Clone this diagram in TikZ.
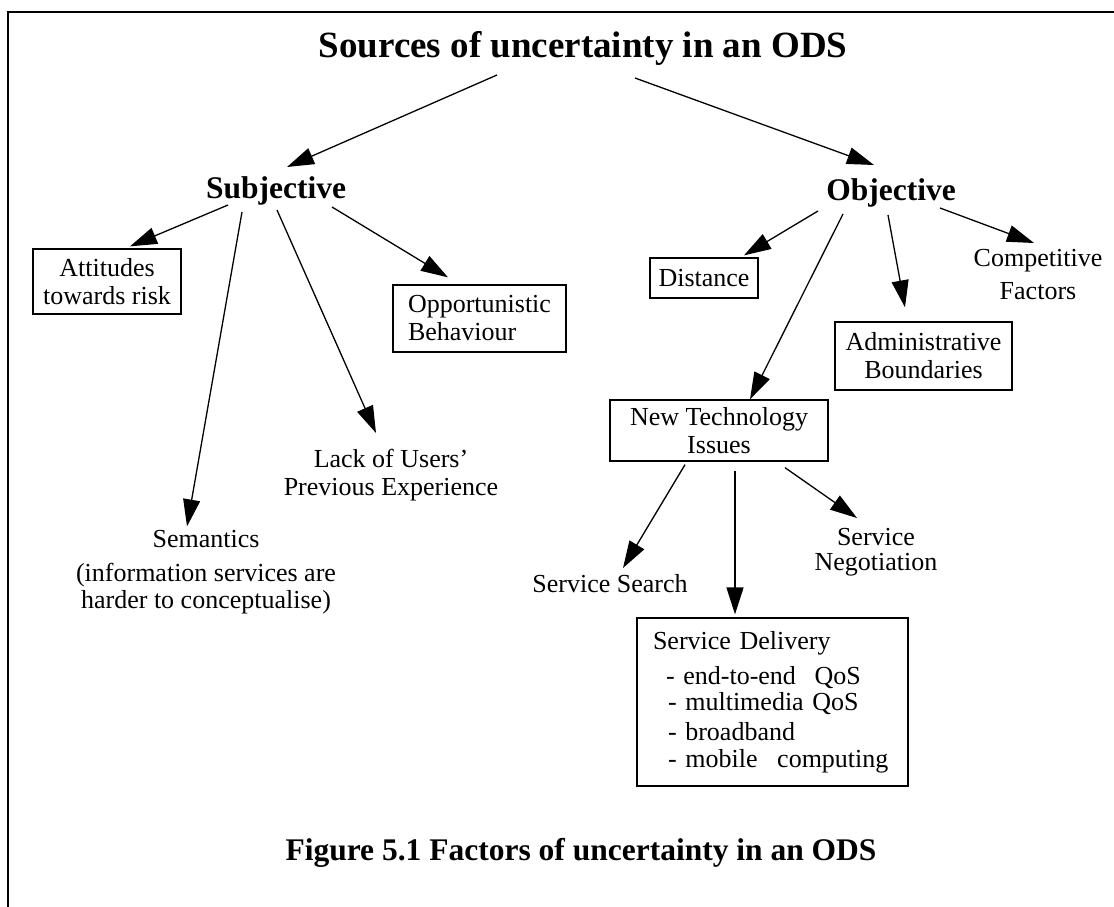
\documentclass[tikz,border=0pt]{standalone}
\usepackage{fontspec}
\setmainfont{Liberation Serif}
\usetikzlibrary{arrows.meta,calc}

\tikzset{
  txt/.style={font=\fontsize{26}{28}\selectfont, inner sep=0pt, align=center},
  head/.style={font=\bfseries\fontsize{31.5}{36}\selectfont, inner sep=0pt},
  boxnode/.style={txt, draw, line width=1.3pt},
  arr/.style={-{Triangle[length=27pt,width=17pt]}, line width=1.3pt},
  frameline/.style={line width=2pt}
}

\begin{document}
\begin{tikzpicture}[x=1pt,y=-1pt]
\useasboundingbox (0,0) rectangle (1114,907);

% page frame (top and left edges)
\draw[frameline] (1114,12) -- (8,12) -- (8,907);

% headings
\node[font=\bfseries\fontsize{37}{42}\selectfont, inner sep=0pt, anchor=base] (title) at (583,58) {Sources of uncertainty in an ODS};
\node[head, anchor=base] (subj) at (276,198) {Subjective};
\node[head, anchor=base] (obj) at (891,200) {Objective};

% subjective factors
\node[boxnode, minimum width=148pt, minimum height=65pt] (att) at (107,281.5) {Attitudes\\towards risk};
\node[boxnode, align=left, minimum width=173pt, minimum height=67pt] (opp) at (479.5,318.5) {Opportunistic\\Behaviour};
\node[txt, anchor=north] (lack) at (391,449) {Lack of Users’\\Previous Experience};
\node[txt, anchor=north] (sem) at (206,530.4) {Semantics\\[6pt](information services are\\[-1pt]harder to conceptualise)};

% objective factors
\node[boxnode, minimum width=108pt, minimum height=40pt] (dist) at (704,278) {Distance};
\node[boxnode, minimum width=177pt, minimum height=68pt] (admin) at (923.5,356) {Administrative\\Boundaries};
\node[txt, anchor=north] (comp) at (1038,249) {Competitive\\[5pt]Factors};
\node[boxnode, minimum width=218pt, minimum height=61pt] (nt) at (719,430.5) {New Technology\\Issues};

% new technology issues
\node[txt, anchor=base] (search) at (610,592) {Service Search};
\node[txt, anchor=north] (neg) at (876,528.4) {Service\\[-3pt]Negotiation};
\node[boxnode, align=left, text width=239pt, inner xsep=16pt, minimum height=168pt] (del) at (772.5,702)
  {Service Delivery\\[7pt]
   \hspace*{13pt}- end-to-end\hspace{10pt} QoS\\[-2pt]
   \hspace*{15pt}- multimedia QoS\\[2pt]
   \hspace*{15pt}- broadband\\[-1pt]
   \hspace*{15pt}- mobile\hspace{11pt} computing};

% caption
\node[font=\bfseries\fontsize{31.5}{36}\selectfont, inner sep=0pt, anchor=base] (cap) at (581,860) {Figure 5.1 Factors of uncertainty in an ODS};

% connectors
\draw[arr] ($(title.base)+(-86,17)$) -- ($(subj.base)+(11,-31)$);
\draw[arr] ($(title.base)+(52,20)$) -- ($(obj.base)+(-17,-35)$);

\draw[arr] ($(subj.base)+(-48,7)$) -- ($(att.north)+(23,-2)$);
\draw[arr] ($(subj.base)+(-34,14)$) -- ($(sem.north)+(-19,-4)$);
\draw[arr] ($(subj.base)+(1,12)$) -- ($(lack.north)+(-15,-16)$);
\draw[arr] ($(subj.base)+(56,9)$) -- ($(opp.north)+(-31.5,-7)$);

\draw[arr] ($(obj.base)+(-73,11)$) -- ($(dist.north)+(40,-2)$);
\draw[arr] ($(obj.base)+(-48,14)$) -- ($(nt.north)+(31,0)$);
\draw[arr] ($(obj.base)+(-3,15)$) -- ($(admin.north)+(-18.5,-14)$);
\draw[arr] ($(obj.base)+(49,8)$) -- ($(comp.north)+(-4,-6)$);

\draw[arr] ($(nt.south)+(-34,3)$) -- ($(search.base)+(13,-24)$);
\draw[arr] ($(nt.south)+(16,9)$) -- ($(del.north)+(-37.5,-3)$);
\draw[arr] ($(nt.south)+(66,6)$) -- ($(neg.north)+(-19,-10.4)$);
\end{tikzpicture}
\end{document}
